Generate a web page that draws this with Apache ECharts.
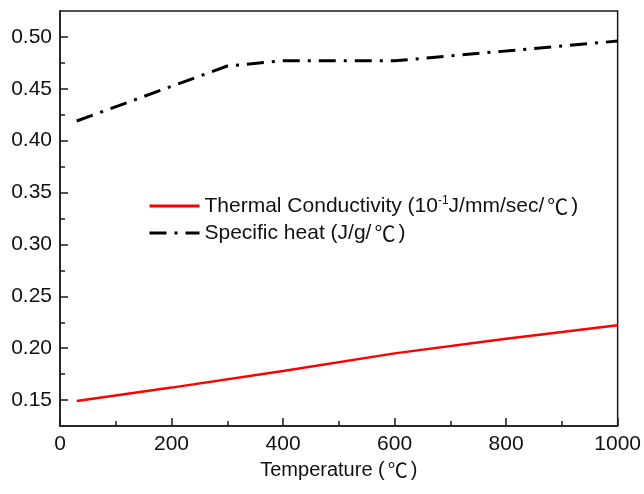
<!DOCTYPE html>
<html><head><meta charset="utf-8">
<script src="https://cdn.jsdelivr.net/npm/echarts@6/dist/echarts.min.js"></script>
<style>html,body{margin:0;padding:0;background:#fff}#c{width:644px;height:494px}</style>
</head><body><div id="c"></div>
<script>
const condX = [30, 200, 400, 600, 800, 1000];
const condY = [0.149, 0.162, 0.178, 0.195, 0.209, 0.222];
const heatX = [30, 300, 400, 600, 1000];
const heatY = [0.419, 0.472, 0.477, 0.477, 0.496];
const yMajor = [0.15, 0.20, 0.25, 0.30, 0.35, 0.40, 0.45, 0.50];
const yMinor = [0.175, 0.225, 0.275, 0.325, 0.375, 0.425, 0.475];
const seriesNames = ['Thermal Conductivity', 'Specific heat (J/g/℃)'];

const font = '"Liberation Sans", Arial, sans-serif';
const cjk = '"Noto Sans CJK SC", "Liberation Sans", sans-serif';
const axisCol = '#1a1a1a';
const chart = echarts.init(document.getElementById('c'), null, {renderer: 'canvas'});
chart.setOption({
  animation: false,
  backgroundColor: '#fff',
  grid: {left: 60, right: 26, top: 11, bottom: 68, show: true, borderColor: axisCol, borderWidth: 1.5, backgroundColor: 'transparent'},
  legend: {
    orient: 'vertical', left: 143, top: 190, itemWidth: 50, itemHeight: 16, itemGap: 6,
    itemStyle: {opacity: 0},
    lineStyle: {width: 3},
    formatter: function (n) {
      if (n === seriesNames[0]) return '{a|Thermal Conductivity (10}{s|-1}{a|J/mm/sec/}{c|℃}{a|)}';
      return '{a|Specific heat (J/g/}{c|℃}{a|)}';
    },
    textStyle: {
      fontFamily: font, fontSize: 21, color: '#111',
      rich: {
        a: {fontFamily: font, fontSize: 21, color: '#111'},
        c: {fontFamily: cjk, fontSize: 21, color: '#111', padding: [0, 3, 0, 3]},
        s: {fontFamily: font, fontSize: 12, color: '#111', verticalAlign: 'top', padding: [0, 0, 10, 0]}
      }
    },
    data: seriesNames
  },
  xAxis: {
    type: 'value', min: 0, max: 1000, interval: 200,
    name: '{a|Temperature (}{c|℃}{a|)}', nameLocation: 'middle', nameGap: 34,
    nameTextStyle: {fontFamily: font, fontSize: 20, color: '#111',
      rich: {a: {fontFamily: font, fontSize: 20, color: '#111'}, c: {fontFamily: cjk, fontSize: 20, color: '#111', padding: [0, 3, 0, 3]}}},
    axisLine: {lineStyle: {color: axisCol, width: 1.5}},
    axisTick: {inside: true, length: 8, lineStyle: {color: axisCol, width: 1.5}},
    minorTick: {show: true, splitNumber: 2, length: 5, lineStyle: {color: axisCol, width: 1.5}},
    axisLabel: {fontFamily: font, fontSize: 21, color: '#111', margin: 8, formatter: v => String(v)},
    splitLine: {show: false}
  },
  yAxis: [{
    type: 'value', min: 0.125, max: 0.525,
    axisLine: {show: true, lineStyle: {color: axisCol, width: 1.5}},
    axisTick: {show: true, inside: true, length: 8, customValues: yMajor, lineStyle: {color: axisCol, width: 1.5}},
    axisLabel: {customValues: yMajor, fontFamily: font, fontSize: 21, color: '#111', margin: 8,
      formatter: v => v.toFixed(2)},
    splitLine: {show: false}
  }, {
    type: 'value', min: 0.125, max: 0.525, position: 'left',
    axisLine: {show: false},
    axisTick: {show: true, inside: true, length: 5, customValues: yMinor, lineStyle: {color: axisCol, width: 1.5}},
    axisLabel: {show: false},
    splitLine: {show: false}
  }],
  series: [{
    name: seriesNames[0], type: 'line', symbol: 'none', yAxisIndex: 0,
    data: condX.map((x, i) => [x, condY[i]]),
    lineStyle: {color: '#ff0000', width: 2.5}, itemStyle: {color: '#ff0000'}
  }, {
    name: seriesNames[1], type: 'line', symbol: 'none', yAxisIndex: 0,
    data: heatX.map((x, i) => [x, heatY[i]]),
    lineStyle: {color: '#000', width: 3, type: [17, 8, 3, 8]}, itemStyle: {color: '#000'}
  }]
});
</script></body></html>
